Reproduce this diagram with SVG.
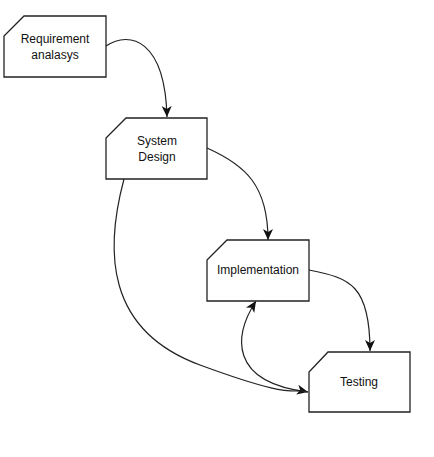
<svg xmlns="http://www.w3.org/2000/svg" width="434" height="457" viewBox="0 0 434 457">
<style>
.node{fill:#ffffff;stroke:#222222;stroke-width:1.3}
.lbl{font-family:"Liberation Sans",Arial,sans-serif;font-size:12px;fill:#111111;text-anchor:middle}
.edge{fill:none;stroke:#222222;stroke-width:1.2;marker-end:url(#arr)}
</style>
<defs>
<marker id="arr" markerUnits="userSpaceOnUse" markerWidth="12" markerHeight="10" viewBox="0 0 12 10" refX="11" refY="5" orient="auto">
<path d="M0,0 L11,5 L0,10 L3,5 Z" fill="#111111"/>
</marker>
</defs>
<rect width="434" height="457" fill="#ffffff"/>
<g id="connectors">
<path class="edge" d="M106,46 C130,30 165,40 167,117"/>
<path class="edge" d="M207,148 C245,165 268,185 268,240"/>
<path class="edge" d="M309,270 C350,278 370,285 370,351"/>
<path class="edge" d="M124,179 C105,250 105,330 200,365 S290,388 308,392"/>
<path class="edge" d="M308,392 C228,382 234,335 256,301"/>
</g>
<g id="node-requirement">
<path class="node" d="M24,16 L106,16 L106,77 L4,77 L4,36 Z"/>
<text class="lbl" x="55" y="43">Requirement</text>
<text class="lbl" x="55" y="59">analasys</text>
</g>
<g id="node-system-design">
<path class="node" d="M126,118 L207,118 L207,179 L106,179 L106,138 Z"/>
<text class="lbl" x="157" y="145">System</text>
<text class="lbl" x="157" y="161">Design</text>
</g>
<g id="node-implementation">
<path class="node" d="M227,240 L309,240 L309,301 L207,301 L207,260 Z"/>
<text class="lbl" x="258" y="274">Implementation</text>
</g>
<g id="node-testing">
<path class="node" d="M328,352 L410,352 L410,412 L309,412 L309,372 Z"/>
<text class="lbl" x="359" y="386">Testing</text>
</g>
</svg>
